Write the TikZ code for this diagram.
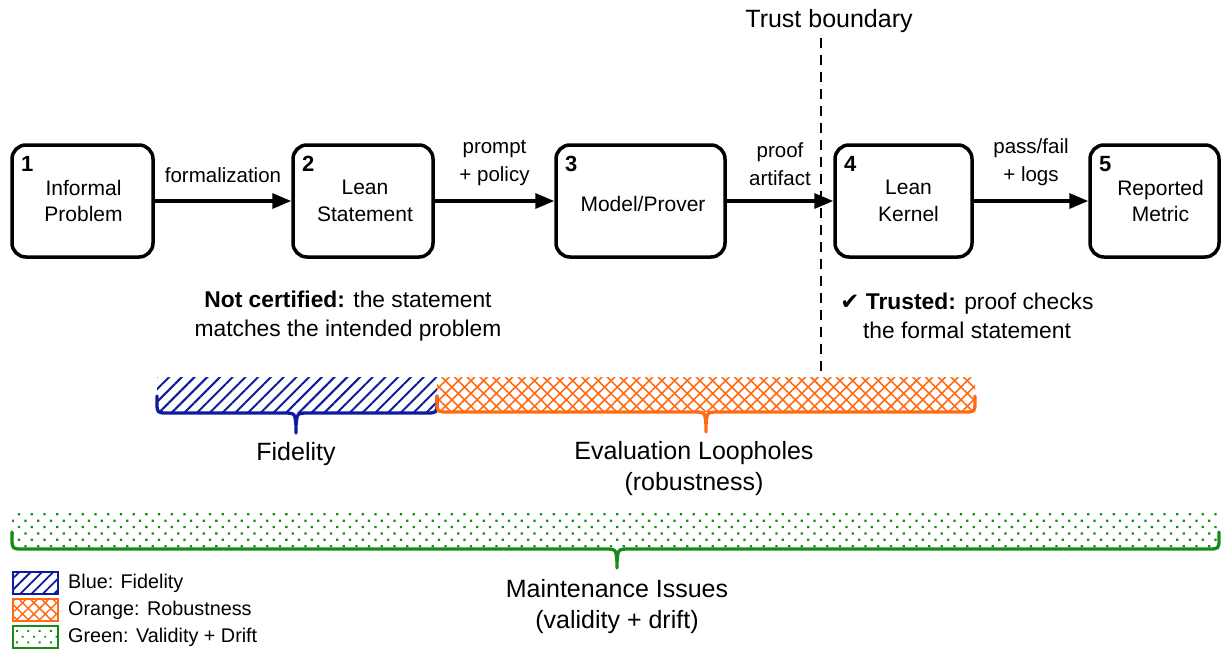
\documentclass[tikz,border=0pt]{standalone}
\usepackage{fontspec}
\setmainfont{Liberation Sans}
\newfontfamily\symfont{DejaVu Sans}
\usetikzlibrary{arrows.meta,patterns.meta}
\definecolor{bluec}{HTML}{0D1B9C}
\definecolor{orangec}{HTML}{FF6A13}
\definecolor{greenc}{HTML}{188A18}
\newcommand\fs[2]{\fontsize{#1}{#2}\selectfont}
\newcommand\mybrace[7]{%
  \draw[brace,#1] (#2,#5) -- (#2,#6-11) .. controls (#2,#6) .. (#2+11,#6)
    -- (#3-13,#6) .. controls (#3-1,#6) .. (#3,#6+13) -- (#3,#7)
    -- (#3,#6+13) .. controls (#3+1,#6) .. (#3+13,#6)
    -- (#4-11,#6) .. controls (#4,#6) .. (#4,#6-11) -- (#4,#5);}
\tikzset{
  box/.style={draw, line width=3.5pt, rounded corners=14pt, inner sep=0pt, minimum height=112pt},
  btext/.style={font=\fs{21}{26.5}, align=center, inner sep=0pt},
  num/.style={font=\bfseries\fs{22}{26}, inner sep=0pt},
  arr/.style={line width=3.3pt, -{Triangle[length=19pt,width=15pt]}},
  elab/.style={font=\fs{20.5}{28}, align=center, inner sep=0pt},
  note/.style={font=\fs{22.8}{29}, align=center, inner sep=0pt},
  big/.style={font=\fs{25}{31}, align=center, inner sep=0pt},
  brace/.style={line width=3.3pt, line cap=round, line join=round},
  leg/.style={font=\fs{19.8}{23}, anchor=west, inner sep=0pt},
}
\begin{document}
\begin{tikzpicture}[x=1pt,y=-1pt]
\useasboundingbox (0,0) rectangle (1221,648);
% trust boundary
\coordinate (tbtop) at (821,38);
\coordinate (tbbot) at (821,378);
\draw[line width=2pt, dash pattern=on 10pt off 7pt] (tbtop) -- (tbbot);
\node[big] (tb) at (829,21) {Trust boundary};
% boxes
\node[box, minimum width=141pt] (b1) at (82.5,201) {};
\node[box, minimum width=140pt] (b2) at (363,201) {};
\node[box, minimum width=169pt] (b3) at (640.5,201) {};
\node[box, minimum width=137pt] (b4) at (903.5,201) {};
\node[box, minimum width=129pt] (b5) at (1154.5,201) {};
\node[btext] (t1) at ([xshift=1pt]b1.center) {Informal\\Problem};
\node[btext] (t2) at ([xshift=2pt]b2.center) {Lean\\Statement};
\node[btext] (t3) at ([xshift=2.5pt,yshift=-3pt]b3.center) {Model/Prover};
\node[btext] (t4) at ([xshift=5pt]b4.center) {Lean\\Kernel};
\node[btext] (t5) at ([xshift=6pt]b5.center) {Reported\\Metric};
\foreach \i in {1,...,5}{
  \node[num] (n\i) at ([xshift=17pt,yshift=-21pt]b\i.north west) {\i};
}
% arrows
\draw[arr] (b1) -- (b2) node[elab, midway, above=17pt] (l1) {formalization};
\draw[arr] (b2) -- (b3) node[elab, midway, above=14pt, anchor=south] (l2) {prompt\\+ policy};
\draw[arr] (b3) -- (b4) node[elab, midway, above=14pt, anchor=south] (l3) {proof\\artifact};
\draw[arr] (b4) -- (b5) node[elab, midway, above=14pt, anchor=south] (l4) {pass/fail\\+ logs};
% notes
\node[note] (nc) at (348,316) {\textbf{Not certified:} the statement\\matches the intended problem};
\node[note] (tr) at (967,316) {{\symfont ✔} \textbf{Trusted:} proof checks\\the formal statement};
% hatched regions
\fill[pattern={Lines[angle=45,distance=9pt,line width=2pt]}, pattern color=bluec] (157,377) rectangle (437,412);
\fill[pattern={Lines[angle=45,distance=9pt,line width=1.6pt]}, pattern color=orangec] (437,377) rectangle (975,411);
\fill[pattern={Lines[angle=-45,distance=9pt,line width=1.6pt]}, pattern color=orangec] (437,377) rectangle (975,411);
\fill[pattern={Dots[distance=9pt,angle=45,radius=1.6pt]}, pattern color=greenc] (12,513) rectangle (1219,548);
% braces
\mybrace{bluec}{157}{296}{437}{396}{413}{433}
\mybrace{orangec}{437}{706}{975}{396}{412}{432}
\mybrace{greenc}{12}{617}{1219}{532}{549}{568}
% brace labels
\node[big] (fid) at (296,454) {Fidelity};
\node[big] (eval) at (694,469) {Evaluation Loopholes\\(robustness)};
\node[big] (maint) at (617,607) {Maintenance Issues\\(validity + drift)};
% legend
\draw[line width=1.5pt, bluec, pattern={Lines[angle=45,distance=8pt,line width=1.8pt]}, pattern color=bluec] (13,572) rectangle (58,594);
\draw[line width=1.5pt, orangec, pattern={Lines[angle=45,distance=8pt,line width=1.5pt]}, pattern color=orangec] (13,599) rectangle (58,621);
\fill[pattern={Lines[angle=-45,distance=8pt,line width=1.5pt]}, pattern color=orangec] (13,599) rectangle (58,621);
\draw[line width=1.5pt, greenc, pattern={Dots[distance=8pt,angle=45,radius=1.3pt]}, pattern color=greenc] (13,626) rectangle (58,648);
\node[leg] (lg1) at (68,583) {Blue: Fidelity};
\node[leg] (lg2) at (68,610) {Orange: Robustness};
\node[leg] (lg3) at (68,637) {Green: Validity + Drift};
\end{tikzpicture}
\end{document}
